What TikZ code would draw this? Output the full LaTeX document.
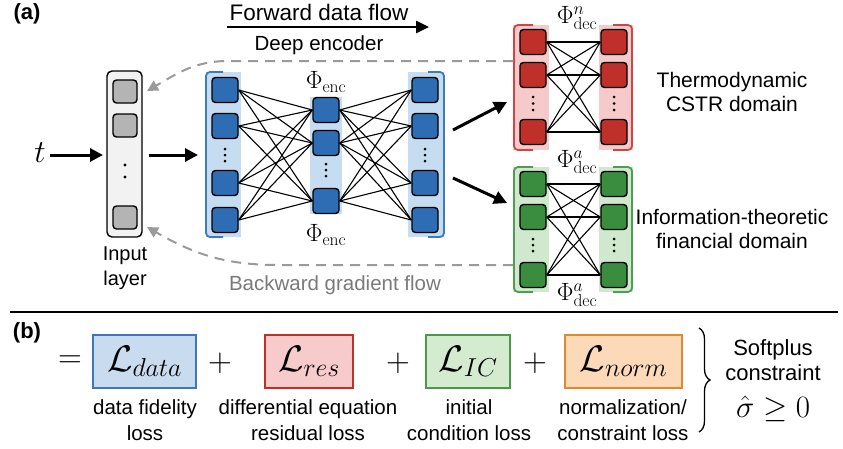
\RequirePackage{fix-cm}
\documentclass[tikz,border=0pt]{standalone}
\usepackage[no-math]{fontspec}
\setmainfont{Liberation Sans}
\usetikzlibrary{arrows.meta,decorations.pathreplacing,calc}
\pgfdeclarelayer{bglayer}
\pgfdeclarelayer{edgelayer}
\pgfsetlayers{bglayer,edgelayer,main}
\definecolor{sqblue}{HTML}{2E6DB4}
\definecolor{bgblue}{HTML}{C6DCF0}
\definecolor{brblue}{HTML}{3C7BBF}
\definecolor{sqred}{HTML}{C0302A}
\definecolor{bgred}{HTML}{F6CACA}
\definecolor{brred}{HTML}{D04444}
\definecolor{sqgreen}{HTML}{3A8C3F}
\definecolor{bggreen}{HTML}{D0E8CD}
\definecolor{brgreen}{HTML}{4E9E50}
\definecolor{sqgray}{HTML}{B4B4B4}
\definecolor{inbg}{HTML}{F2F2F2}
\definecolor{flowgray}{HTML}{9A9A9A}
\definecolor{txtgray}{HTML}{7A7A7A}
\definecolor{ldfill}{HTML}{C9DCEF}
\definecolor{ldline}{HTML}{3A78B8}
\definecolor{lrfill}{HTML}{F7CBCB}
\definecolor{lrline}{HTML}{C0302A}
\definecolor{lifill}{HTML}{D4EBD0}
\definecolor{liline}{HTML}{4A9A4A}
\definecolor{lnfill}{HTML}{FCD9B8}
\definecolor{lnline}{HTML}{E08A2A}
\begin{document}
\begin{tikzpicture}[x=1pt,y=-1pt,
  sq/.style={draw=black,line width=1.4pt,rounded corners=3.5pt,minimum width=26pt,minimum height=25pt,inner sep=0pt},
  bsq/.style={sq,fill=sqblue},
  rsq/.style={sq,fill=sqred},
  gsq/.style={sq,fill=sqgreen},
  isq/.style={sq,fill=sqgray,minimum width=24pt,minimum height=23pt},
  link/.style={line width=1.1pt,draw=black},
  dotf/.style={circle,fill=black,inner sep=0pt,minimum size=3.2pt},
  bigarrow/.style={line width=3pt,-{Triangle[length=13pt,width=13pt]}},
  backflow/.style={draw=flowgray,line width=2pt,dash pattern=on 10pt off 7pt,-{Triangle[length=11pt,width=11pt,fill=flowgray]}},
  txt/.style={font=\fontsize{21}{24}\selectfont,align=center,inner sep=0pt},
  lbl/.style={font=\fontsize{20.5}{26}\selectfont,align=center,inner sep=0pt},
  phi/.style={font=\fontsize{25}{28}\selectfont,inner sep=0pt},
  lossbox/.style={line width=2pt,minimum height=53pt,inner sep=0pt,font=\fontsize{37}{40}\selectfont},
  opsym/.style={font=\fontsize{33}{36}\selectfont,inner sep=0pt},
  brk/.style={line width=1.8pt,rounded corners=4pt}
]
\useasboundingbox (0,0) rectangle (843,448);
\begin{pgfonlayer}{bglayer}
\fill[white] (0,0) rectangle (843,448);
\end{pgfonlayer}

% labels (a)
\node[font=\bfseries\fontsize{22}{24}\selectfont,inner sep=0pt] (lbla) at (27,14) {(a)};
\node[txt,font=\fontsize{22.5}{24}\selectfont] (fwd) at (319,12) {Forward data flow};
\coordinate (fwdL) at (227,27);
\coordinate (fwdR) at (429,27);
\draw[line width=2.5pt,-{Triangle[length=13pt,width=12pt]}] (fwdL) -- (fwdR);
\node[txt,font=\fontsize{20.5}{24}\selectfont] (deep) at (319,45) {Deep encoder};

% input layer
\node[draw=black,line width=1.4pt,fill=inbg,rounded corners=5pt,minimum width=35pt,minimum height=166pt,inner sep=0pt] (inframe) at (124.5,154) {};
\node[isq] (i1) at (125,91.5) {};
\node[isq] (i2) at (125,125.5) {};
\node[isq] (i3) at (125,217.5) {};
\node[dotf] (id1) at (125,165) {};
\node[dotf] (id2) at (125,177) {};
\node[txt,font=\fontsize{20}{25}\selectfont] (inlbl) at (125,268) {Input\\layer};

% t arrow
\node[font=\fontsize{32}{34}\selectfont,inner sep=0pt] (tin) at (40,153) {$t$};
\coordinate (tend) at (103,155);
\draw[bigarrow] (tin.east |- tend) ++(4,0) -- (tend);
\coordinate (encin) at (198,155);
\draw[bigarrow] (inframe.east |- encin) ++(6,0) -- (encin);

% encoder backgrounds
\begin{pgfonlayer}{bglayer}
\fill[bgblue] (206,72) rectangle (241,237);
\fill[bgblue] (310,97) rectangle (342,214);
\fill[bgblue] (408,72) rectangle (444,237);
\draw[brk,draw=brblue] (223,72) -- (206,72) -- (206,237) -- (223,237);
\draw[brk,draw=brblue] (428,72) -- (444,72) -- (444,237) -- (428,237);
\end{pgfonlayer}

% encoder nodes
\foreach \n/\y in {1/90,2/126,3/183,4/220} {
  \node[bsq] (e\n) at (225,\y) {};
  \node[bsq] (r\n) at (425,\y) {};
}
\foreach \n/\y in {1/110,2/143,3/201} { \node[bsq] (m\n) at (326,\y) {}; }
\begin{pgfonlayer}{edgelayer}
\foreach \a in {1,...,4} {
  \foreach \b in {1,2,3} {
    \draw[link] (e\a.east) -- (m\b.west);
    \draw[link] (m\b.east) -- (r\a.west);
  }
}
\end{pgfonlayer}
\foreach \y in {149,155,161} {
  \node[dotf,minimum size=3pt] at (225,\y) {};
  \node[dotf,minimum size=3pt] at (425,\y) {};
}
\foreach \y in {164,170,176} { \node[dotf,minimum size=3pt] at (326,\y) {}; }
\node[phi] (phie1) at (326,82) {$\Phi_{\mathrm{enc}}$};
\node[phi] (phie2) at (326,235) {$\Phi_{\mathrm{enc}}$};

% decoders backgrounds
\begin{pgfonlayer}{bglayer}
\fill[bgred] (513,25) rectangle (549,150);
\fill[bgred] (599,25) rectangle (633,150);
\fill[bggreen] (513,167) rectangle (549,292);
\fill[bggreen] (599,167) rectangle (633,292);
\draw[brk,draw=brred] (533,25) -- (514,25) -- (514,150) -- (533,150);
\draw[brk,draw=brred] (613,25) -- (632,25) -- (632,150) -- (613,150);
\draw[brk,draw=brgreen] (533,167) -- (514,167) -- (514,292) -- (533,292);
\draw[brk,draw=brgreen] (613,167) -- (632,167) -- (632,292) -- (613,292);
\end{pgfonlayer}

\foreach \n/\y in {1/42,2/75,3/132} {
  \node[rsq] (na\n) at (533,\y) {};
  \node[rsq] (nb\n) at (614,\y) {};
}
\foreach \n/\y in {1/184,2/217,3/275} {
  \node[gsq] (aa\n) at (533,\y) {};
  \node[gsq] (ab\n) at (614,\y) {};
}
\begin{pgfonlayer}{edgelayer}
\foreach \a in {1,2,3} {
  \foreach \b in {1,2,3} {
    \draw[link] (na\a.east) -- (nb\b.west);
    \draw[link] (aa\a.east) -- (ab\b.west);
  }
}
\end{pgfonlayer}
\foreach \y in {97,103.5,110} {
  \node[dotf,minimum size=3pt] at (533,\y) {};
  \node[dotf,minimum size=3pt] at (614,\y) {};
}
\foreach \y in {239,245,251} {
  \node[dotf,minimum size=3pt] at (533,\y) {};
  \node[dotf,minimum size=3pt] at (614,\y) {};
}
\node[phi] (phin) at (577,18) {$\Phi_{\mathrm{dec}}^{n}$};
\node[phi] (phia1) at (577,162) {$\Phi_{\mathrm{dec}}^{a}$};
\node[phi] (phia2) at (577,295) {$\Phi_{\mathrm{dec}}^{a}$};

% encoder -> decoder arrows
\coordinate (a1s) at (453,130);
\coordinate (a1e) at (507,102);
\coordinate (a2s) at (453,178);
\coordinate (a2e) at (507,203);
\draw[bigarrow] (a1s) -- (a1e);
\draw[bigarrow] (a2s) -- (a2e);

% domain texts
\node[txt] (thermo) at (732,92) {Thermodynamic\\CSTR domain};
\node[txt] (info) at (732,229) {Information-theoretic\\financial domain};

% backward flow
\coordinate (bt0) at (513,61);
\coordinate (bt1) at (228,61);
\coordinate (btE) at (147,91);
\coordinate (bb0) at (513,265);
\coordinate (bb1) at (278,265);
\coordinate (bbE) at (147,227);
\draw[backflow] (bt0) -- (bt1) to[out=180,in=30] (btE);
\draw[backflow] (bb0) -- (bb1) to[out=180,in=-30] (bbE);
\node[txt,text=txtgray,font=\fontsize{20.5}{24}\selectfont] (bwd) at (335,285) {Backward gradient flow};

% separator
\coordinate (sepL) at (10,312);
\coordinate (sepR) at (838,312);
\draw[line width=1.2pt] (sepL) -- (sepR);

% (b)
\node[font=\bfseries\fontsize{22}{24}\selectfont,inner sep=0pt] (lblb) at (27,333) {(b)};
\node[opsym] (eq) at (70,362) {$=$};
\node[lossbox,draw=ldline,fill=ldfill,minimum width=103pt] (ld) at (144.5,361.5) {$\mathcal{L}_{data}$};
\node[opsym] (p1) at (220,363) {$+$};
\node[lossbox,draw=lrline,fill=lrfill,minimum width=88pt] (lr) at (309,361.5) {$\mathcal{L}_{res}$};
\node[opsym] (p2) at (398,363) {$+$};
\node[lossbox,draw=liline,fill=lifill,minimum width=84pt] (li) at (468,361.5) {$\mathcal{L}_{IC}$};
\node[opsym] (p3) at (535,363) {$+$};
\node[lossbox,draw=lnline,fill=lnfill,minimum width=117pt] (ln) at (623.5,361.5) {$\mathcal{L}_{norm}$};

\node[lbl] (ldt) at (145,420) {data fidelity\\loss};
\node[lbl] (lrt) at (308,420) {differential equation\\residual loss};
\node[lbl] (lit) at (469,420) {initial\\condition loss};
\node[lbl] (lnt) at (623,420) {normalization/\\constraint loss};

\coordinate (brT) at (699,328);
\coordinate (brB) at (699,432);
\draw[line width=1.3pt,decorate,decoration={brace,amplitude=11pt}] (brT) -- (brB);
\node[txt,font=\fontsize{22}{25}\selectfont] (soft) at (773,360) {Softplus\\constraint};
\node[font=\fontsize{31}{34}\selectfont,inner sep=0pt] (sig) at (773,409) {$\hat{\sigma}\geq 0$};
\end{tikzpicture}
\end{document}
